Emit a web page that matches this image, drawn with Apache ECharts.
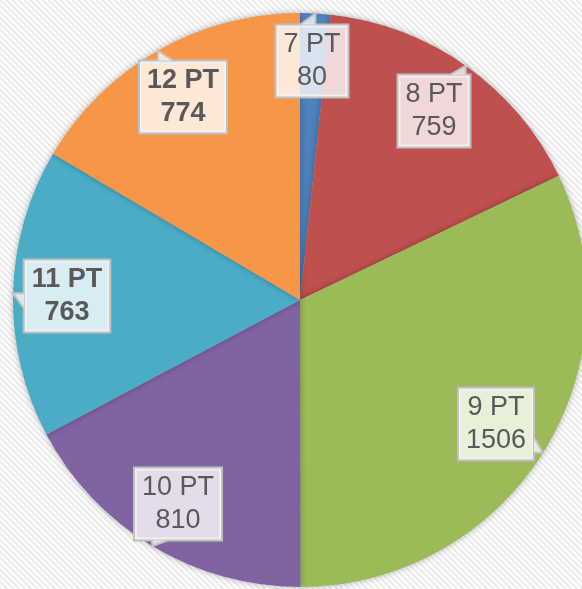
<!DOCTYPE html>
<html>
<head>
<meta charset="utf-8">
<script src="https://cdn.jsdelivr.net/npm/echarts@6/dist/echarts.min.js"></script>
<style>
  html, body { margin: 0; padding: 0; }
  #chart { width: 582px; height: 589px; }
</style>
</head>
<body>
<div id="chart"></div>
<script>
const categories = ['7 PT', '8 PT', '9 PT', '10 PT', '11 PT', '12 PT'];
const values = [80, 759, 1506, 810, 763, 774];
const boldCategories = ['11 PT', '12 PT'];

const colors = ['#4F81BD', '#C0504D', '#9BBB59', '#8064A2', '#4BACC6', '#F79646'];
// label box centres (layout only)
const labelPos = [[312, 61], [434, 111], [496, 424], [178, 504], [67, 296], [183, 97]];
const cx = 300, cy = 300, radius = 287;

// hatched background
function makePattern() {
  const c = document.createElement('canvas');
  c.width = 6; c.height = 6;
  const g = c.getContext('2d');
  g.fillStyle = '#fbfbfb';
  g.fillRect(0, 0, 6, 6);
  g.fillStyle = '#e8e8e8';
  for (let i = 0; i < 6; i++) {
    g.fillRect(i, i, 1, 1);
    g.fillRect((i + 1) % 6, i, 1, 1);
  }
  return c;
}

const total = values.reduce((a, b) => a + b, 0);
const midAngles = [];
let acc = 0;
values.forEach(v => {
  midAngles.push((acc + v / 2) / total * Math.PI * 2);
  acc += v;
});

const labelRects = [];

const chart = echarts.init(document.getElementById('chart'));
chart.setOption({
  backgroundColor: { image: makePattern(), repeat: 'repeat' },
  color: colors,
  series: [{
    type: 'pie',
    center: [cx, cy],
    radius: radius,
    startAngle: 90,
    clockwise: true,
    silent: true,
    animation: false,
    itemStyle: {
      shadowBlur: 6,
      shadowColor: 'rgba(0,0,0,0.3)'
    },
    label: {
      position: 'outside',
      alignTo: 'none',
      bleedMargin: -1000,
      overflow: 'none',
      formatter: '{b}\n{c}',
      fontFamily: 'Liberation Sans, Arial, sans-serif',
      fontSize: 27,
      lineHeight: 33,
      color: '#595959',
      align: 'center',
      backgroundColor: 'rgba(255,255,255,0.78)',
      borderColor: '#bfbfbf',
      borderWidth: 2,
      padding: [3, 7, 2, 7]
    },
    labelLine: { show: false },
    labelLayout: function (params) {
      const i = params.dataIndex;
      const p = labelPos[i];
      labelRects[i] = { w: params.labelRect.width, h: params.labelRect.height };
      return { x: p[0], y: p[1], align: 'center', verticalAlign: 'middle' };
    },
    data: categories.map((name, i) => ({
      name: name,
      value: values[i],
      label: boldCategories.includes(name) ? { fontWeight: 'bold' } : {}
    }))
  }]
});

// callout pointers: from each label box to the middle of its slice's arc
const pointers = labelPos.map((p, i) => {
  const a = midAngles[i];
  const tip = [cx + radius * Math.sin(a), cy - radius * Math.cos(a)];
  const r = labelRects[i] || { w: 80, h: 72 };
  const x0 = p[0] - r.w / 2, x1 = p[0] + r.w / 2;
  const y0 = p[1] - r.h / 2, y1 = p[1] + r.h / 2;
  const clamp = (v, lo, hi) => Math.min(Math.max(v, lo), hi);
  let b1, b2;
  const len = 15;
  if (tip[1] < y0 || tip[1] > y1) {
    const ey = tip[1] < y0 ? y0 + 1 : y1 - 1;
    const bx = clamp(tip[0], x0 + 4, x1 - 4);
    const dir = bx > p[0] ? -1 : 1;
    b1 = [bx, ey]; b2 = [bx + dir * len, ey];
  } else {
    const ex = tip[0] < x0 ? x0 + 1 : x1 - 1;
    const by = clamp(tip[1], y0 + 4, y1 - 4);
    const dir = by > p[1] ? -1 : 1;
    b1 = [ex, by]; b2 = [ex, by + dir * len];
  }
  return {
    type: 'polyline',
    silent: true,
    z: 100,
    shape: { points: [b1, tip, b2] },
    style: { stroke: '#c4c4c4', lineWidth: 2, fill: 'rgba(255,255,255,0.75)' }
  };
});
chart.setOption({ graphic: pointers });
</script>
</body>
</html>
